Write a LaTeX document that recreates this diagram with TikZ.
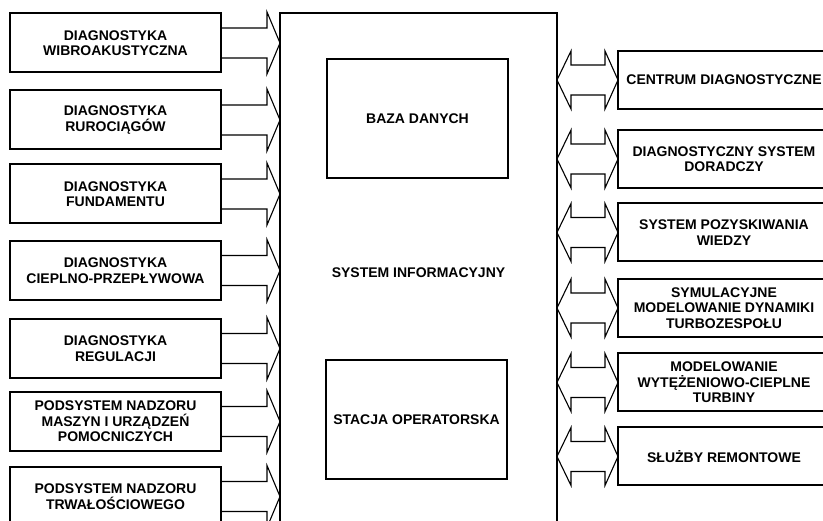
\documentclass[tikz,border=0pt]{standalone}
\usepackage{fontspec}
\setmainfont{Liberation Sans}
\usetikzlibrary{calc}
\tikzset{box/.style={draw, line width=2pt, fill=white, outer sep=0pt, align=center, inner sep=2pt, font=\fontsize{14}{15.5}\selectfont\bfseries},
  lbox/.style={box, minimum width=211pt, minimum height=59pt},
  rbox/.style={box, minimum width=212pt, minimum height=58pt},
  ibox/.style={box, minimum width=181pt, minimum height=119pt},
  flow/.style={draw, line width=1.1pt, line join=miter}}

\begin{document}
\begin{tikzpicture}[x=1pt,y=-1pt]
\useasboundingbox (0,0) rectangle (823,521);
\clip (0,0) rectangle (823,521);
% ---- system informacyjny ----
\node[box, minimum width=277pt, minimum height=520pt] (sys) at (418.5,273) {SYSTEM INFORMACYJNY};
\node[ibox] (baza) at (417.5,118.5) {BAZA DANYCH};
\node[ibox] (stacja) at (416.5,419.5) {STACJA OPERATORSKA};
% ---- sources ----
\node[lbox] (l1) at (115.5,43) {DIAGNOSTYKA\\WIBROAKUSTYCZNA};
\node[lbox] (l2) at (115.5,120) {DIAGNOSTYKA\\RUROCIĄGÓW};
\node[lbox] (l3) at (115.5,194) {DIAGNOSTYKA\\FUNDAMENTU};
\node[lbox] (l4) at (115.5,270.5) {DIAGNOSTYKA\\CIEPLNO-PRZEPŁYWOWA};
\node[lbox] (l5) at (115.5,348.5) {DIAGNOSTYKA\\REGULACJI};
\node[lbox] (l6) at (115.5,421.5) {PODSYSTEM NADZORU\\MASZYN I URZĄDZEŃ\\POMOCNICZYCH};
\node[lbox] (l7) at (115.5,496.5) {PODSYSTEM NADZORU\\TRWAŁOŚCIOWEGO};
% ---- partners ----
\node[rbox] (r1) at (724,80) {CENTRUM DIAGNOSTYCZNE};
\node[rbox] (r2) at (724,159) {DIAGNOSTYCZNY SYSTEM\\DORADCZY};
\node[rbox] (r3) at (724,232.5) {SYSTEM POZYSKIWANIA\\WIEDZY};
\node[rbox] (r4) at (724,308) {SYMULACYJNE\\MODELOWANIE DYNAMIKI\\TURBOZESPOŁU};
\node[rbox] (r5) at (724,382.5) {MODELOWANIE\\WYTĘŻENIOWO-CIEPLNE\\TURBINY};
\node[rbox] (r6) at (724,456.5) {SŁUŻBY REMONTOWE};
% ---- block arrows ----
\foreach \i in {1,...,7}
  \draw[flow] ($(l\i.east)+(0,-15)$) -- ++(46,0) -- ++(0,-16) -- (l\i.east -| sys.west) -- ++(-13,31) -- ++(0,-16) -- ++(-46,0);
\foreach \i in {1,...,6}
  \draw[flow] (r\i.west -| sys.east) -- ++(14,-29) -- ++(0,14) -- ++(34,0) -- ++(0,-14) -- (r\i.west) -- ++(-13,29) -- ++(0,-14) -- ++(-34,0) -- ++(0,14) -- cycle;
\end{tikzpicture}
\end{document}
